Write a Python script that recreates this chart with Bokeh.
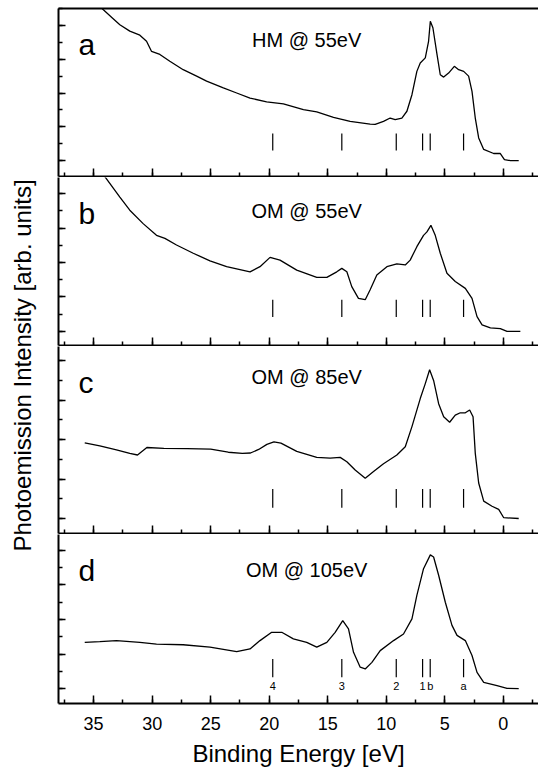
import numpy as np
from bokeh.plotting import figure
from bokeh.layouts import column, row
from bokeh.models import (Range1d, Label, LinearAxis, SingleIntervalTicker,
                          FixedTicker, CustomJSTickFormatter)
from bokeh.embed import file_html
from bokeh.resources import INLINE
from bokeh.core.properties import value

FONT = "Liberation Sans"

# ---------------- data ----------------
energy_a = [35.8, 34.19, 33.4, 32.76, 31.91, 31.05, 30.48, 30.05, 29.34, 28.49, 27.35, 26.20,
            25.35, 23.92, 22.78, 21.64, 20.22, 18.79, 17.08, 15.94, 14.51, 13.09, 11.38,
            10.95, 10.24, 9.67, 9.24, 8.67, 8.24, 7.81, 7.39, 7.10, 6.67, 6.39, 6.24, 6.02,
            5.67, 5.39, 5.10, 4.68, 4.19, 3.82, 3.39, 2.97, 2.68, 2.40, 2.11, 1.68, 0.83,
            0.26, -0.09, -0.60, -1.31]
intensity_a = [5.00, 4.47, 4.22, 4.02, 3.83, 3.71, 3.53, 3.23, 3.14, 2.94, 2.69, 2.50,
               2.35, 2.15, 2.00, 1.85, 1.74, 1.68, 1.51, 1.44, 1.28, 1.16, 1.08,
               1.07, 1.16, 1.26, 1.21, 1.26, 1.46, 1.95, 2.64, 2.89, 3.04, 3.53, 4.12, 3.93,
               3.14, 2.54, 2.47, 2.59, 2.79, 2.69, 2.64, 2.50, 2.05, 1.26, 0.67, 0.33, 0.21,
               0.21, 0.03, 0.0, 0.0]

energy_b = [35.8, 33.90, 32.76, 31.91, 30.77, 29.63, 28.91, 27.92, 26.49, 25.06, 23.64,
            21.64, 20.79, 19.93, 19.08, 17.65, 15.94, 15.08, 14.23, 13.80, 13.37, 12.95,
            12.38, 11.80, 11.38, 10.81, 9.95, 9.10, 8.38, 7.96, 7.39, 6.82, 6.53, 6.19,
            5.82, 5.39, 4.82, 4.11, 3.25, 2.68, 2.25, 1.82, 1.11, 0.26, -0.31, -1.45]
intensity_b = [5.30, 4.43, 3.90, 3.52, 3.13, 2.79, 2.70, 2.51, 2.27, 2.05, 1.88,
               1.73, 1.88, 2.15, 2.07, 1.78, 1.57, 1.57, 1.73, 1.83, 1.73, 1.30,
               0.96, 0.92, 1.21, 1.64, 1.88, 1.96, 1.93, 2.07, 2.46, 2.79, 2.89, 3.08,
               2.79, 2.27, 1.69, 1.45, 1.25, 0.96, 0.43, 0.19, 0.10, 0.08, 0.0, 0.0]

energy_c = [35.76, 34.47, 33.05, 31.91, 31.25, 30.45, 29.0, 27.0, 25.0, 23.5, 22.3, 21.6,
            20.9, 20.2, 19.6, 19.0, 17.65, 15.94, 14.80, 13.94, 13.37, 12.66, 11.80, 11.09,
            10.24, 9.10, 8.38, 7.81, 7.10, 6.67, 6.30, 5.96, 5.53, 5.10, 4.59, 4.11, 3.68,
            3.25, 2.88, 2.59, 2.40, 2.11, 1.68, 0.97, 0.40, -0.03, -1.31]
intensity_c = [1.92, 1.84, 1.74, 1.65, 1.61, 1.80, 1.78, 1.77, 1.76, 1.68, 1.65, 1.66,
               1.75, 1.88, 1.94, 1.91, 1.70, 1.55, 1.53, 1.55, 1.44, 1.23, 1.02, 1.19,
               1.39, 1.61, 1.82, 2.33, 3.04, 3.42, 3.77, 3.50, 2.91, 2.58, 2.44, 2.62, 2.68,
               2.68, 2.75, 2.58, 1.65, 0.90, 0.44, 0.31, 0.23, 0.02, 0.0]

energy_d = [35.76, 34.47, 33.05, 31.05, 29.63, 27.35, 25.06, 22.78, 21.64, 20.79, 19.79,
            18.93, 17.94, 16.80, 15.94, 15.08, 14.37, 13.72, 13.23, 12.80, 12.23, 11.80,
            11.23, 10.52, 9.38, 8.53, 7.81, 7.39, 6.82, 6.24, 5.96, 5.53, 4.96, 4.39, 3.96,
            3.25, 2.68, 2.25, 1.68, 0.54, -0.31, -1.31]
intensity_d = [1.34, 1.36, 1.39, 1.34, 1.29, 1.27, 1.20, 1.07, 1.15, 1.39, 1.63,
               1.63, 1.44, 1.34, 1.20, 1.34, 1.63, 1.97, 1.73, 1.05, 0.62, 0.57,
               0.76, 1.10, 1.39, 1.58, 2.02, 2.70, 3.47, 3.87, 3.81, 3.28, 2.50, 1.83, 1.54,
               1.39, 0.96, 0.47, 0.18, 0.09, 0.01, 0.0]

panel_letters = ["a", "b", "c", "d"]
panel_titles = ["HM @ 55eV", "OM @ 55eV", "OM @ 85eV", "OM @ 105eV"]
marker_energy = [19.7, 13.8, 9.15, 6.9, 6.25, 3.4]
marker_labels = ["4", "3", "2", "1", "b", "a"]

# ---------------- layout settings ----------------
panels = [
    dict(E=energy_a, I=intensity_a, yr=(-0.47, 4.50), fh=168, mk=(0.30, 0.80),
         let_y=3.44, tit_y=3.56),
    dict(E=energy_b, I=intensity_b, yr=(-0.41, 4.47), fh=168, mk=(0.42, 0.92),
         let_y=3.42, tit_y=3.50),
    dict(E=energy_c, I=intensity_c, yr=(-0.38, 4.36), fh=187, mk=(0.27, 0.75),
         let_y=3.46, tit_y=3.59),
    dict(E=energy_d, I=intensity_d, yr=(-0.43, 4.46), fh=169, mk=(0.33, 0.86),
         let_y=3.42, tit_y=3.42),
]

xr = Range1d(38, -3)

figs = []
n = len(panels)
for k, cfg in enumerate(panels):
    last = (k == n - 1)
    first = (k == 0)
    p = figure(frame_width=480, frame_height=cfg["fh"], x_range=xr,
               y_range=Range1d(*cfg["yr"]), output_backend="svg",
               toolbar_location=None, min_border_left=20, min_border_right=0,
               min_border_top=8 if first else 0,
               min_border_bottom=66 if last else 1)
    p.outline_line_color = None
    p.xgrid.visible = False
    p.ygrid.visible = False
    p.background_fill_color = "white"
    p.border_fill_color = "white"

    # y axis: ticks inside, no labels
    ya = p.yaxis[0]
    ya.ticker = SingleIntervalTicker(interval=1, num_minor_ticks=2)
    ya.formatter = CustomJSTickFormatter(code="return ''")
    ya.major_tick_in = 7
    ya.major_tick_out = 0
    ya.minor_tick_in = 4
    ya.minor_tick_out = 0
    ya.major_tick_line_width = 1.5
    ya.minor_tick_line_width = 1.5
    ya.axis_line_width = 2
    ya.major_label_standoff = 0
    ya.axis_label = None

    xa = p.xaxis[0]
    xa.ticker = SingleIntervalTicker(interval=5, num_minor_ticks=2)
    xa.major_tick_in = 8
    xa.major_tick_out = 0
    xa.minor_tick_in = 4
    xa.minor_tick_out = 0
    xa.major_tick_line_width = 1.5
    xa.minor_tick_line_width = 1.5
    xa.axis_line_width = 2
    if last:
        xa.axis_label = "Binding Energy [eV]"
        xa.axis_label_text_font = FONT
        xa.axis_label_text_font_size = "24px"
        xa.axis_label_text_font_style = "normal"
        xa.axis_label_text_color = "black"
        xa.axis_label_standoff = 7
        xa.major_label_text_font = FONT
        xa.major_label_text_font_size = "18px"
        xa.major_label_text_color = "black"
        xa.major_label_standoff = 13
    else:
        xa.formatter = CustomJSTickFormatter(code="return ''")
        xa.major_label_standoff = 0
        xa.axis_label = None

    if first:
        top = LinearAxis(ticker=FixedTicker(ticks=[]),
                         formatter=CustomJSTickFormatter(code="return ''"),
                         major_tick_in=0, major_tick_out=0, minor_tick_in=0,
                         minor_tick_out=0, major_label_standoff=0, axis_line_width=2)
        p.add_layout(top, "above")

    p.line(cfg["E"], cfg["I"], line_color="black", line_width=1.3)
    p.segment(x0=marker_energy, y0=[cfg["mk"][0]] * len(marker_energy),
              x1=marker_energy, y1=[cfg["mk"][1]] * len(marker_energy),
              line_color="black", line_width=1.2)

    p.add_layout(Label(x=36.3, y=cfg["let_y"], text=panel_letters[k],
                       text_font=FONT, text_font_size="30px",
                       text_color="black", text_align="left",
                       text_baseline="alphabetic"))
    p.add_layout(Label(x=16.8, y=cfg["tit_y"], text=panel_titles[k],
                       text_font=FONT, text_font_size="20px",
                       text_color="black", text_align="center",
                       text_baseline="alphabetic"))
    if last:
        p.text(x=marker_energy, y=[0.07] * len(marker_energy), text=marker_labels,
               text_font=value(FONT), text_font_size="11px", text_color="black",
               text_align="center", text_baseline="alphabetic")
    figs.append(p)

TOTAL_H = 770
lab = figure(width=38, height=TOTAL_H, x_range=Range1d(0, 38), y_range=Range1d(0, TOTAL_H),
             output_backend="svg", toolbar_location=None, x_axis_location=None,
             y_axis_location=None, min_border=0)
lab.outline_line_color = None
lab.xgrid.visible = False
lab.ygrid.visible = False
lab.add_layout(Label(x=22, y=TOTAL_H - 365, text="Photoemission Intensity [arb. units]",
                     text_font=FONT, text_font_size="24px", text_color="black",
                     angle=np.pi / 2, text_align="center", text_baseline="middle"))

layout = row(lab, column(*figs))

with open("out.html", "w") as f:
    f.write(file_html(layout, INLINE))
